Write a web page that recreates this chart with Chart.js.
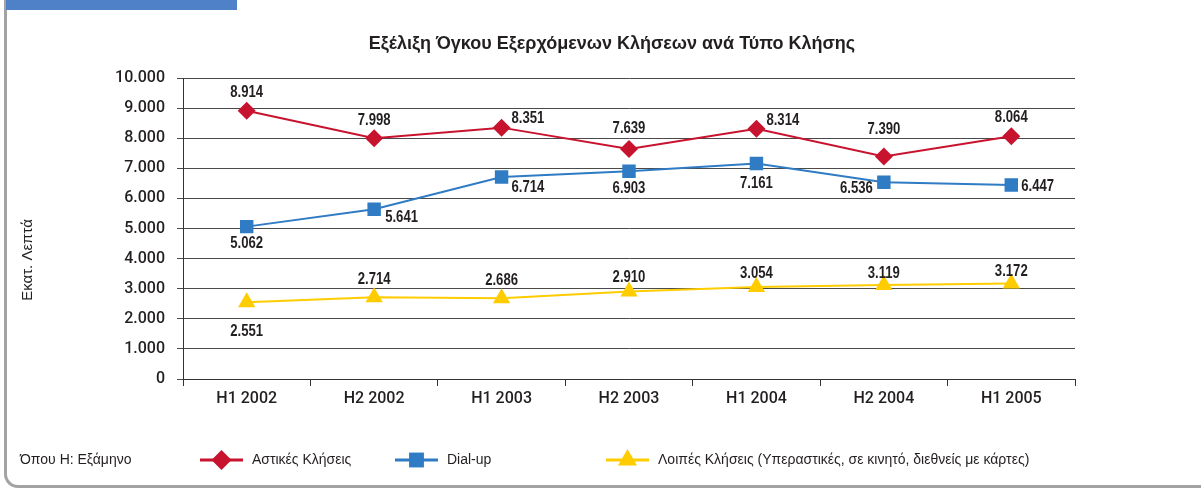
<!DOCTYPE html>
<html><head><meta charset="utf-8">
<script src="https://cdn.jsdelivr.net/npm/chart.js@4/dist/chart.umd.min.js"></script>
<style>
html,body{margin:0;padding:0;background:#fff;}
#wrap{position:relative;width:1201px;height:489px;overflow:hidden;background:#fff;}
#frame{position:absolute;left:4px;top:-30px;width:1400px;height:515px;border-left:3px solid #a3a3a3;border-bottom:3px solid #a3a3a3;border-bottom-left-radius:14px;box-sizing:content-box;}
#tab{position:absolute;left:6px;top:0;width:231px;height:10px;background:#4F81C8;}
#c{position:absolute;left:0;top:0;}
</style>
</head><body>
<div id="wrap">
<div id="frame"></div>
<div id="tab"></div>
<canvas id="c" width="1201" height="489"></canvas>
</div>
<script>
const categories = ['H1 2002','H2 2002','H1 2003','H2 2003','H1 2004','H2 2004','H1 2005'];
const astikes = [8914, 7998, 8351, 7639, 8314, 7390, 8064];
const dialup  = [5062, 5641, 6714, 6903, 7161, 6536, 6447];
const loipes  = [2551, 2714, 2686, 2910, 3054, 3119, 3172];
const yTickLabels = ['0','1.000','2.000','3.000','4.000','5.000','6.000','7.000','8.000','9.000','10.000'];
const seriesNames = ['Αστικές Κλήσεις', 'Dial-up', 'Λοιπές Κλήσεις (Υπεραστικές, σε κινητό, διεθνείς με κάρτες)'];
const chartTitle = 'Εξέλιξη Όγκου Εξερχόμενων Κλήσεων ανά Τύπο Κλήσης';
const yTitle = 'Εκατ. Λεπτά';
const footnote = 'Όπου Η: Εξάμηνο';

// label placement (style): [dx, dy, align] relative to the point
const labelPlacement = [
  [[0,-18,'center'],[0,-18,'center'],[10,-9,'left'],[0,-20,'center'],[10,-8,'left'],[0,-27,'center'],[0,-19,'center']],
  [[0,17,'center'],[11,8,'left'],[10,11,'left'],[0,17,'center'],[0,20,'center'],[-11,6,'right'],[10,2,'left']],
  [[0,29,'center'],[0,-18,'center'],[0,-18,'center'],[0,-14,'center'],[0,-13,'center'],[0,-12,'center'],[0,-12,'center']]
];
const legendX = [200, 395, 606];

const RED = '#C8132F', BLUE = '#2F7BC4', YEL = '#FFCC00';
const fmt = v => String(v).replace(/\B(?=(\d{3})+(?!\d))/g, '.');
const SQ = 0.82; // horizontal condensing of value labels

const extras = {
  id: 'extras',
  afterDatasetsDraw(chart) {
    const ctx = chart.ctx;
    ctx.save();
    // data labels
    ctx.font = 'bold 16px "Liberation Sans", Arial, sans-serif';
    ctx.fillStyle = '#231F20';
    ctx.textBaseline = 'middle';
    chart.data.datasets.forEach((ds, di) => {
      const meta = chart.getDatasetMeta(di);
      meta.data.forEach((pt, i) => {
        const p = labelPlacement[di][i];
        ctx.save();
        ctx.translate(pt.x + p[0], pt.y + p[1]);
        ctx.scale(SQ, 1);
        ctx.textAlign = p[2];
        ctx.fillText(fmt(ds.data[i]), 0, 0);
        ctx.restore();
      });
    });
    // title
    ctx.font = 'bold 18px "Liberation Sans", Arial, sans-serif';
    ctx.textAlign = 'center';
    ctx.fillText(chartTitle, 612, 44);
    // y title
    ctx.save();
    ctx.translate(28, 260);
    ctx.rotate(-Math.PI / 2);
    ctx.font = '15px "Liberation Sans", Arial, sans-serif';
    ctx.fillText(yTitle, 0, 0);
    ctx.restore();
    // footnote
    ctx.textAlign = 'left';
    ctx.font = '14px "Liberation Sans", Arial, sans-serif';
    ctx.fillText(footnote, 20, 460);
    // legend
    chart.data.datasets.forEach((ds, di) => {
      const x0 = legendX[di], y = 460;
      ctx.strokeStyle = ds.borderColor;
      ctx.lineWidth = 3;
      ctx.beginPath(); ctx.moveTo(x0, y); ctx.lineTo(x0 + 43, y); ctx.stroke();
      ctx.fillStyle = ds.backgroundColor;
      Chart.helpers.drawPoint(ctx, {pointStyle: ds.pointStyle, radius: ds.pointRadius + 1, borderWidth: 0}, x0 + 21.5, y);
      ctx.fillStyle = '#231F20';
      ctx.fillText(seriesNames[di], x0 + 52, y);
    });
    ctx.restore();
  }
};

const tickFont = {family: 'Roboto, "Liberation Sans", Arial, sans-serif', size: 16, weight: 500};

new Chart(document.getElementById('c'), {
  type: 'line',
  data: {
    labels: categories,
    datasets: [
      {label: seriesNames[0], data: astikes, borderColor: RED, backgroundColor: RED, borderWidth: 2, pointStyle: 'rectRot', pointRadius: 9, pointBorderWidth: 0, tension: 0},
      {label: seriesNames[1], data: dialup, borderColor: BLUE, backgroundColor: BLUE, borderWidth: 2, pointStyle: 'rect', pointRadius: 9.5, pointBorderWidth: 0, tension: 0},
      {label: seriesNames[2], data: loipes, borderColor: YEL, backgroundColor: YEL, borderWidth: 2, pointStyle: 'triangle', pointRadius: 10, pointBorderWidth: 0, tension: 0}
    ]
  },
  options: {
    responsive: false,
    animation: false,
    layout: {padding: {left: 0, top: 78, right: 126, bottom: 0}},
    plugins: {legend: {display: false}, title: {display: false}, tooltip: {enabled: false}},
    scales: {
      x: {
        offset: true,
        grid: {offset: true, drawOnChartArea: false, drawTicks: true, tickLength: 7, color: '#333', lineWidth: 1},
        border: {display: true, color: '#333', width: 1},
        ticks: {color: '#231F20', font: tickFont, padding: 3, maxRotation: 0},
        afterFit: s => { s.height = 110; }
      },
      y: {
        min: 0, max: 10000,
        ticks: {stepSize: 1000, color: '#231F20', font: tickFont, padding: 12,
          callback: (v, i) => yTickLabels[i]},
        grid: {color: '#4a4a4a', lineWidth: 1, tickLength: 6, drawTicks: true},
        border: {display: true, color: '#333', width: 1},
        afterFit: s => { s.width = 183; }
      }
    }
  },
  plugins: [extras]
});
</script>
</body></html>
